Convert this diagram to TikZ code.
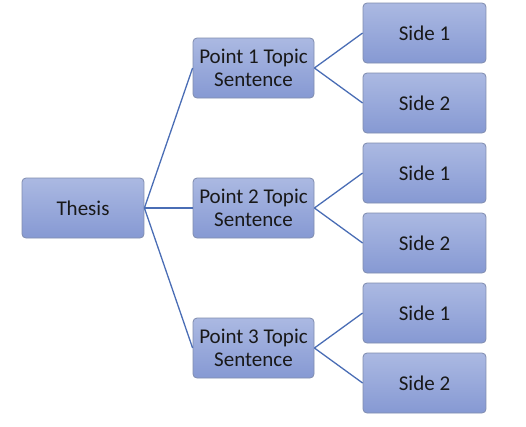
\documentclass[tikz,border=0pt]{standalone}
\usepackage{fontspec}
\setmainfont{Carlito}
\usetikzlibrary{positioning}
\definecolor{boxtop}{HTML}{ABB9E2}
\definecolor{boxbot}{HTML}{8699D3}
\definecolor{boxline}{HTML}{7F8CAE}
\definecolor{linkc}{HTML}{4A6DB5}
\begin{document}
\begin{tikzpicture}[x=1pt,y=-1pt,
  box/.style={draw=boxline, line width=0.8pt, rounded corners=4pt,
    top color=boxtop, bottom color=boxbot, minimum height=60pt,
    font=\fontsize{21}{23.5}\selectfont, align=center, inner sep=0pt,
    text=black!90},
  thesisbox/.style={box, minimum width=122pt},
  pointbox/.style={box, minimum width=121pt},
  sidebox/.style={box, minimum width=123pt},
  link/.style={draw=linkc, line width=1.3pt}]
\useasboundingbox (0,0) rectangle (526,426);
\node[thesisbox] (t) at (83,208) {Thesis};
\node[pointbox] (p1) at (253.5,68) {Point 1 Topic\\Sentence};
\node[pointbox] (p2) at (253.5,208) {Point 2 Topic\\Sentence};
\node[pointbox] (p3) at (253.5,348) {Point 3 Topic\\Sentence};
\node[sidebox] (s11) at (424.5,33) {Side 1};
\node[sidebox] (s12) at (424.5,103) {Side 2};
\node[sidebox] (s21) at (424.5,173) {Side 1};
\node[sidebox] (s22) at (424.5,243) {Side 2};
\node[sidebox] (s31) at (424.5,313) {Side 1};
\node[sidebox] (s32) at (424.5,383) {Side 2};
\foreach \p in {p1,p2,p3} \draw[link] (t.east) -- (\p.west);
\draw[link] (p1.east) -- (s11.west);
\draw[link] (p1.east) -- (s12.west);
\draw[link] (p2.east) -- (s21.west);
\draw[link] (p2.east) -- (s22.west);
\draw[link] (p3.east) -- (s31.west);
\draw[link] (p3.east) -- (s32.west);
\end{tikzpicture}
\end{document}
